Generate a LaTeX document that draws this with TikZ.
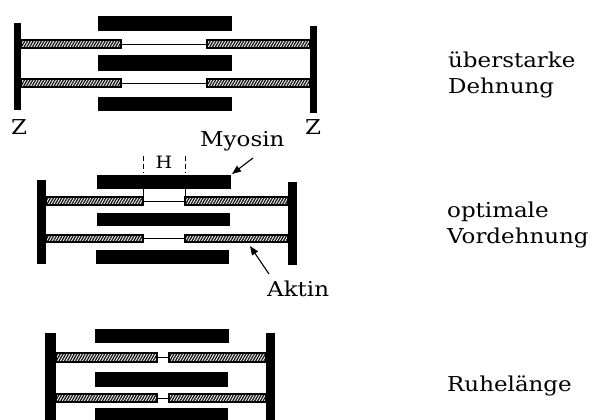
\documentclass[tikz,border=0pt]{standalone}
\usepackage{fontspec}
\setmainfont{DejaVu Serif}[FakeStretch=1.12]
\usetikzlibrary{patterns.meta,arrows.meta}
\begin{document}
\begin{tikzpicture}[x=1pt,y=-1pt,
  zline/.style={fill=black},
  myo/.style={fill=black},
  actin/.style={draw=black,line width=1.3pt,
    pattern={Lines[angle=60,distance=2.4pt,line width=1.35pt]},pattern color=black!90},
  thinf/.style={line width=0.8pt},
  lbl/.style={font=\fontsize{20.5}{24}\selectfont,inner sep=0pt},
  ptr/.style={line width=1.1pt,-{Triangle[length=9pt,width=7pt]}}]
\useasboundingbox (0,0) rectangle (592,420);

% --- overstretched sarcomere ---
\fill[zline] (14,23) rectangle (21,110);
\fill[zline] (310,26) rectangle (317,113);
\fill[myo] (98,16) rectangle (232,31);
\fill[myo] (98,55) rectangle (232,71);
\fill[myo] (98,97) rectangle (232,111);
\draw[thinf] (121,44) -- (207,44);
\draw[thinf] (121,83) -- (207,83);
\path[actin] (21,40) rectangle (121,48);
\path[actin] (207,40) rectangle (310,48);
\path[actin] (21,79) rectangle (121,87);
\path[actin] (207,79) rectangle (310,87);
\node[lbl,anchor=base] (z1) at (19,134) {Z};
\node[lbl,anchor=base] (z2) at (313,134) {Z};

% --- optimal pre-stretch ---
\fill[zline] (37,180) rectangle (46,264);
\fill[zline] (288,182) rectangle (297,265);
\fill[myo] (97,175) rectangle (231,189);
\fill[myo] (97,213) rectangle (230,226);
\fill[myo] (96,250) rectangle (229,264);
\draw[thinf] (143,189) -- (143,201) -- (185,201) -- (185,189);
\draw[thinf] (143,238) -- (185,238);
\path[actin] (46,197) rectangle (143,205);
\path[actin] (185,197) rectangle (288,205);
\path[actin] (46,235) rectangle (143,242);
\path[actin] (185,235) rectangle (288,242);
\draw[thinf,dash pattern=on 5pt off 3pt] (143,156) -- (143,173);
\draw[thinf,dash pattern=on 5pt off 3pt] (185,156) -- (185,173);
\node[lbl,font=\fontsize{17}{20}\selectfont,anchor=base] (h) at (164,168) {H};
\node[lbl,anchor=base west] (myosin) at (200,146) {Myosin};
\node[lbl,anchor=base west] (aktin) at (267,296) {Aktin};
\coordinate (myotail) at (253,158);
\coordinate (myotip) at (232,174);
\coordinate (akttail) at (269,274);
\coordinate (akttip) at (250,246);
\draw[ptr] (myotail) -- (myotip);
\draw[ptr] (akttail) -- (akttip);

% --- resting length ---
\fill[zline] (45,333) rectangle (56,420);
\fill[zline] (266,333) rectangle (275,420);
\fill[myo] (95,329) rectangle (229,343);
\fill[myo] (95,372) rectangle (228,387);
\fill[myo] (95,408) rectangle (228,420);
\draw[thinf] (157,357.5) -- (169,357.5);
\draw[thinf] (157,398) -- (169,398);
\path[actin] (56,353) rectangle (157,362);
\path[actin] (169,353) rectangle (266,362);
\path[actin] (56,394) rectangle (157,402);
\path[actin] (169,394) rectangle (266,402);

% --- state labels ---
\node[lbl,anchor=base west] (s1a) at (448,67) {überstarke};
\node[lbl,anchor=base west] (s1b) at (448,93) {Dehnung};
\node[lbl,anchor=base west] (s2a) at (447,217) {optimale};
\node[lbl,anchor=base west] (s2b) at (447,243) {Vordehnung};
\node[lbl,anchor=base west] (s3) at (447,391) {Ruhelänge};
\end{tikzpicture}
\end{document}
